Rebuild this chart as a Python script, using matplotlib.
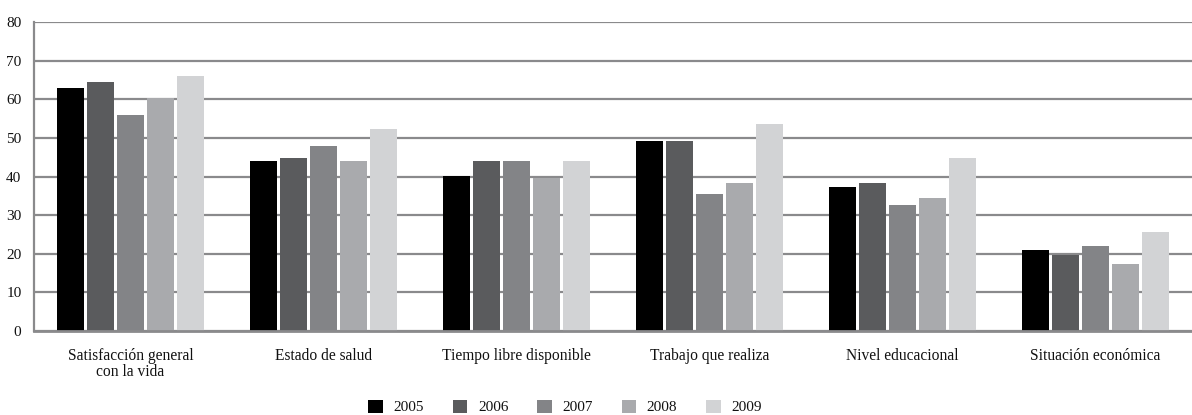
import numpy as np
import matplotlib
matplotlib.use("Agg")
import matplotlib.pyplot as plt
from matplotlib.patches import Patch

plt.rcParams["font.family"] = ["Liberation Serif", "DejaVu Serif"]

categories = [
    "Satisfacción general\ncon la vida",
    "Estado de salud",
    "Tiempo libre disponible",
    "Trabajo que realiza",
    "Nivel educacional",
    "Situación económica",
]
years = ["2005", "2006", "2007", "2008", "2009"]
values_2005 = [63.0, 44.0, 40.2, 49.2, 37.3, 21.0]
values_2006 = [64.4, 44.8, 44.0, 49.2, 38.3, 19.7]
values_2007 = [56.0, 47.9, 44.0, 35.5, 32.6, 22.0]
values_2008 = [60.3, 44.0, 39.6, 38.3, 34.4, 17.4]
values_2009 = [66.0, 52.3, 44.0, 53.6, 44.8, 25.6]
series = [values_2005, values_2006, values_2007, values_2008, values_2009]
colors = ["#000000", "#5a5b5d", "#838487", "#a9aaad", "#d2d3d5"]

fig = plt.figure(figsize=(11.92, 4.15), dpi=100)
ax = fig.add_axes([34 / 1192, 1 - 331 / 415, 1 - 34 / 1192, (331 - 22) / 415])

x = np.arange(len(categories))
slot = 0.155
width = 0.14
for i, (vals, c) in enumerate(zip(series, colors)):
    ax.bar(x + (i - 2) * slot, vals, width=width, color=c, zorder=3, label=years[i])

ax.set_xlim(-0.5, len(categories) - 0.5)
ax.set_ylim(0, 80)
ax.set_yticks(range(0, 81, 10))
ax.yaxis.grid(True, color="#8a8a8c", linewidth=1.6, zorder=0)
ax.set_axisbelow(True)
for s in ["top", "right"]:
    ax.spines[s].set_visible(False)
ax.spines["left"].set_color("#8a8a8c")
ax.spines["left"].set_linewidth(1.6)
ax.spines["bottom"].set_color("#8a8a8c")
ax.spines["bottom"].set_linewidth(2.0)
ax.spines["bottom"].set_zorder(4)
ax.set_xticks(x)
ax.set_xticklabels(categories, fontsize=11.2, linespacing=1.05, color="#111111")
ax.tick_params(axis="x", length=0, pad=12)
ax.tick_params(axis="y", length=0, pad=9, labelsize=11, labelcolor="#111111")

handles = [Patch(facecolor=c, edgecolor="none") for c in colors]
fig.legend(handles, years, loc="center", bbox_to_anchor=(0.474, 1 - 407 / 415),
           ncol=5, frameon=False, fontsize=11, handlelength=0.95,
           handleheight=0.95, handletextpad=0.7, columnspacing=1.88,
           labelcolor="#111111")

fig.savefig("out.png", dpi=100)
